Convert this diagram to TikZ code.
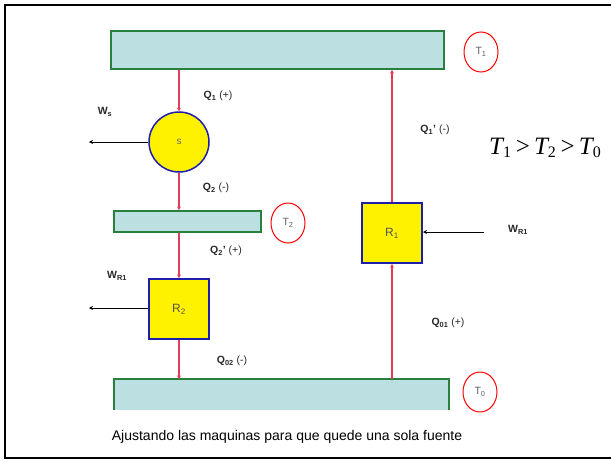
\documentclass[tikz,border=0pt]{standalone}
\usepackage{fontspec}
\setmainfont{Liberation Sans}
\newfontfamily\timesf{Liberation Serif}
\usetikzlibrary{arrows.meta,shapes.geometric}
\definecolor{resfill}{RGB}{188,224,226}
\definecolor{resline}{RGB}{40,128,60}
\definecolor{machline}{RGB}{30,30,170}
\definecolor{heat}{RGB}{225,60,90}
\definecolor{txt}{RGB}{40,40,40}
\tikzset{
  reservoir/.style={draw=resline,fill=resfill,line width=2pt,inner sep=0pt},
  machine/.style={draw=machline,fill=yellow,line width=2pt,inner sep=0pt,minimum width=60pt,minimum height=60pt,font=\fontsize{12}{13}\selectfont,text=txt!80},
  tcirc/.style={draw=red,line width=1pt,ellipse,minimum width=34pt,minimum height=40pt,inner sep=0pt,font=\fontsize{10.5}{11}\selectfont,text=txt!75},
  heatflow/.style={draw=heat,line width=2pt,-{Stealth[length=3.5pt,width=4pt]}},
  workflow/.style={draw=black,line width=1pt,-{Stealth[length=4pt,width=4pt]}},
  qlab/.style={font=\bfseries\fontsize{10.5}{12}\selectfont,text=txt,inner sep=0pt}
}
\begin{document}
\begin{tikzpicture}[x=1pt,y=-1pt]
\useasboundingbox (0,0) rectangle (611,461);
\fill[white] (0,0) rectangle (611,461);
\draw[line width=2pt] (616,5) -- (5,5) -- (5,458) -- (616,458);
% reservoirs
\node[reservoir,minimum width=333pt,minimum height=38pt] (T1) at (277.5,50) {};
\node[reservoir,minimum width=147pt,minimum height=21pt] (T2) at (187.5,221.5) {};
\fill[resfill] (114,379) rectangle (449,410);
\draw[resline,line width=2pt] (114,410) -- (114,379) -- (449,379) -- (449,410);
\coordinate (T0l) at (179,379);
\coordinate (T0r) at (392,379);
% circle labels
\node[tcirc] (c1) at (481,52) {T\textsubscript{1}};
\node[tcirc] (c2) at (288,223) {T\textsubscript{2}};
\node[tcirc] (c0) at (480,392) {T\textsubscript{0}};
% machines
\node[circle,draw=machline,fill=yellow,line width=1.5pt,minimum size=60pt,inner sep=0pt,font=\fontsize{10}{11}\selectfont,text=txt!70] (S) at (179,142) {s};
\node[machine] (R2) at (179,309) {R\textsubscript{2}};
\node[machine] (R1) at (392,233) {R\textsubscript{1}};
% heat flows
\draw[heatflow] (T1.south -| S) -- (S.north);
\draw[heatflow] (S.south) -- (T2.north -| S);
\draw[heatflow] (T2.south -| R2) -- (R2.north);
\draw[heatflow] (R2.south) -- (T0l);
\draw[heatflow] (R1.north) -- (T1.south -| R1);
\draw[heatflow] (T0r) -- (R1.south);
% work flows
\coordinate (ws) at (89,142);
\coordinate (wr2) at (89,308);
\coordinate (wr1) at (484,232);
\draw[workflow] (S.west) -- (ws);
\draw[workflow] (R2.west |- wr2) -- (wr2);
\draw[workflow] (wr1) -- (R1.east |- wr1);
% labels
\node[qlab] (lq1) at (218,96) {Q\textsubscript{1} {\mdseries(+)}};
\node[qlab] (lws) at (105,112) {W\textsubscript{s}};
\node[qlab] (lq2) at (216,188) {Q\textsubscript{2} {\mdseries(-)}};
\node[qlab] (lq2p) at (226,251) {Q\textsubscript{2}\textbf{'} {\mdseries(+)}};
\node[qlab] (lwr2) at (117,276) {W\textsubscript{R1}};
\node[qlab] (lq02) at (232,361) {Q\textsubscript{02} {\mdseries(-)}};
\node[qlab] (lq1p) at (435,130) {Q\textsubscript{1}\textbf{'} {\mdseries(-)}};
\node[qlab] (lwr1) at (518,230) {W\textsubscript{R1}};
\node[qlab] (lq01) at (448,323) {Q\textsubscript{01} {\mdseries(+)}};
\node[font=\timesf\itshape\fontsize{25}{28}\selectfont,inner sep=0pt,anchor=west] (ineq) at (489,148) {T\textsubscript{\upshape\fontsize{16}{16}\selectfont 1}\,{\upshape >}\,T\textsubscript{\upshape\fontsize{16}{16}\selectfont 2}\,{\upshape >}\,T\textsubscript{\upshape\fontsize{16}{16}\selectfont 0}};
\node[font=\fontsize{14}{16}\selectfont,inner sep=0pt] (cap) at (287,437) {Ajustando las maquinas para que quede una sola fuente};
\end{tikzpicture}
\end{document}
